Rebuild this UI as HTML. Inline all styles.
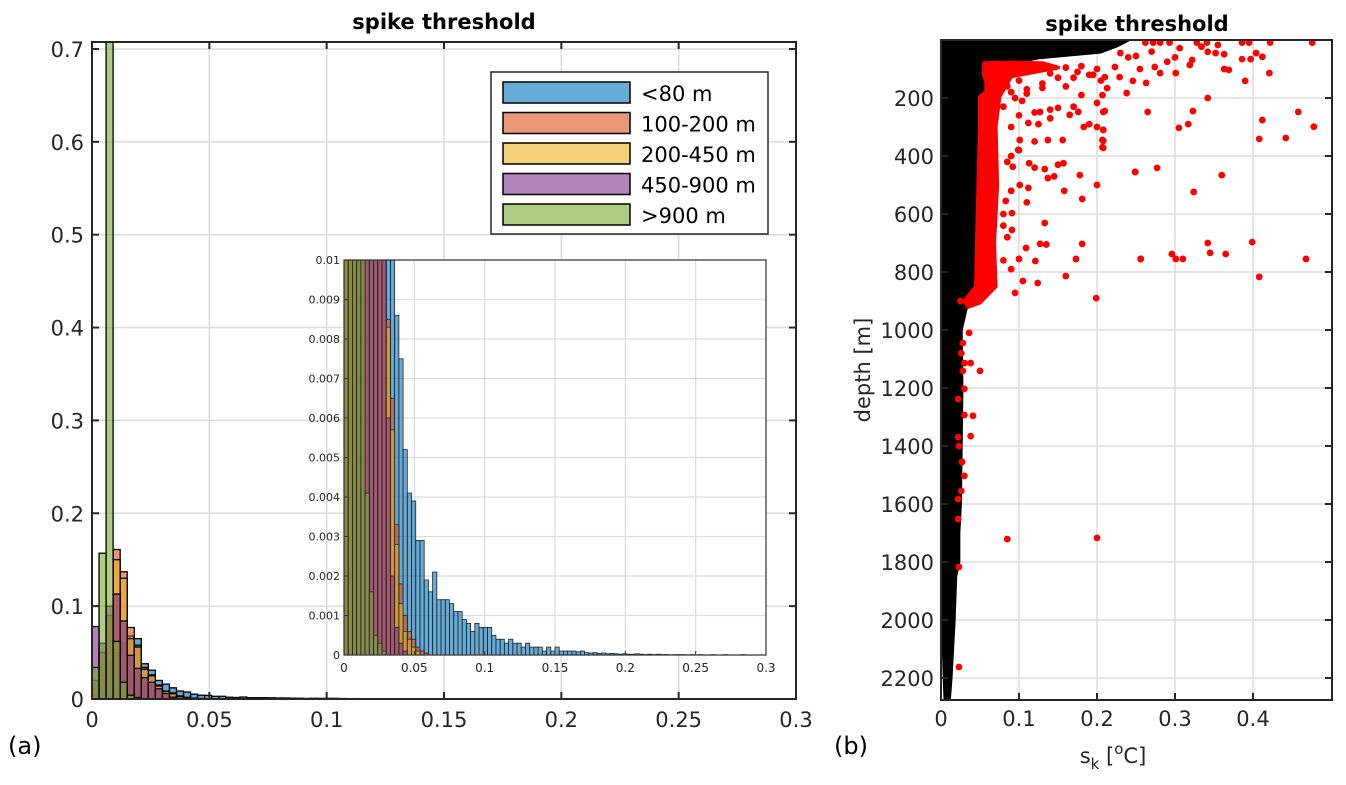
<!DOCTYPE html>
<html><head><meta charset="utf-8"><style>
html,body{margin:0;padding:0;background:#fff;}
svg{display:block;font-family:"DejaVu Sans","Liberation Sans",sans-serif;}
</style></head><body>
<svg id="fig" width="1346" height="785" viewBox="0 0 1346 785">
</svg>
<script>
// ---------- DATA ----------
const binWidth = 0.003;
const seriesNames = ["<80 m","100-200 m","200-450 m","450-900 m",">900 m"];
const blueVals = [.005,.02,.04,.05,.06,.068,.065,.038,.031,.02,
.016,.012,.0086,.0075,.0052,.0041,.0039,.0029,.0029,.0019,
.0016,.0021,.0014,.0014,.0014,.0013,.0011,.0011,.0009,.0008,
.0006,.0008,.0007,.0007,.0007,.0005,.0004,.0004,.0003,.0004,
.0003,.0003,.0002,.0003,.0002,.0002,.0002,.0001,.0002,.0001,
.0002,.0001,.0001,.0001,.0001,.00008,.0001,.00006,.00005,.00006,
.00004,.00005,.00003,.00004,.00003,.00002,.00003,.00002,.00002,.00003,
.00002,.00001,.00002,.00001,.00002,.00001,.00001,0,.00001,.00001,
.00001,0,.00001,0,.00001,0,0,.00001,0,0,
.00001,0,0,0,.00001,0,0,0,0,0];
const orangeVals = [.02,.05,.09,.161,.137,.077,.058,.034,.026,.015,.0085,.0065,.0033,.0018,.001,.0006,.0004,.0002,.0001,.00005];
const yellowVals = [.02,.05,.09,.15,.13,.065,.056,.032,.025,.014,.0083,.0057,.0028,.0013,.0006,.0004,.0002,.0001];
const purpleVals = [.078,.06,.1,.113,.084,.047,.033,.023,.018,.011,.006,.002,.0007,.0003,.0001];
const greenVals = [.034,.157,.71,.062,.018,.0041,.0016,.0005,.0003,.0001];
const mainYTicks = [0,0.1,0.2,0.3,0.4,0.5,0.6,0.7];
const mainXTicks = [0,0.05,0.1,0.15,0.2,0.25,0.3];
const insetYTicks = [0,0.001,0.002,0.003,0.004,0.005,0.006,0.007,0.008,0.009,0.01];
const insetXTicks = [0,0.05,0.1,0.15,0.2,0.25,0.3];
// right panel
const depthTicks = [200,400,600,800,1000,1200,1400,1600,1800,2000,2200];
const skTicks = [0,0.1,0.2,0.3,0.4];
const blackDepth = [0,20,40,60,80,120,196,300,600,850,900,920,1000,1200,1400,1600,1700,1800,1850,2000,2100,2200,2270];
const blackMax   = [.235,.22,.2,.12,.085,.06,.049,.047,.045,.045,.035,.028,.021,.022,.021,.02,.018,.018,.014,.012,.01,.008,.006];
const blackMin   = [0,0,0,0,0,0,0,0,0,0,0,0,0,0,0,0,0,.002,.003,.004,.005,.006,.007];
const redBandX = [.055,.09,.13,.15,.12,.09,.075,.07,.072,.068,.07,.05,.035,.03,.045,.047,.05,.05,.058,.058,.055];
const redBandD = [80,78,80,95,110,125,195,300,500,700,850,905,920,900,850,600,300,195,180,140,120];
const redX = [.262,.272,.281,.293,.328,.341,.386,.395,.422,.476,.306,.334,.355,.342,.352,.363,.404,.412,.386,.397,.363,.369,.39,.421,.342,.323,.265,.412,.458,.478,.305,.317,.408,.442,.249,.277,.36,.324,.342,.399,.256,.296,.301,.31,.345,.365,.468,.408,
.223,.229,.238,.246,.255,.263,.274,.281,.301,.319,.322,.21,.213,.207,.21,.208,.207,.207,.24,.25,.29,.3,.23,.27,
.104,.127,.14,.15,.176,.2,.208,.165,.112,.125,.137,.156,.183,.19,.2,.208,.208,.208,.101,.12,.099,.113,.092,.133,.15,.157,.137,.145,.12,.178,.249,.2,.101,.112,.158,.181,.083,.133,.091,.091,.08,.127,.135,.181,.109,.1,.121,.173,.09,.16,.105,.124,.095,.199,.256,.09,.11,.13,.16,.18,.1,.12,.14,.17,.09,.11,
.16,.18,.2,.19,.17,.14,.12,.1,.085,.095,.11,.13,.15,.175,.195,.205,.08,.09,.1,.085,.09,.08,.085,.08,
.036,.028,.026,.03,.038,.05,.028,.03,.022,.03,.041,.022,.038,.023,.027,.03,.026,.022,.022,.085,.023,.023,.2,.025];
const redD = [9,9,9,9,9,9,9,9,9,9,28,23,17,41,45,49,45,58,66,66,100,103,141,114,200,245,248,276,248,299,303,290,341,338,455,441,466,524,700,697,755,738,755,755,734,738,755,817,
93,128,183,141,100,148,93,114,114,86,69,128,166,190,245,310,345,370,60,55,75,60,45,40,
210,248,240,234,248,217,248,258,286,290,345,345,300,290,300,310,348,372,345,350,379,425,437,445,430,425,476,470,440,466,455,500,500,510,520,548,555,631,597,655,640,703,705,703,717,755,762,755,790,814,831,838,872,890,755,180,170,165,160,190,260,250,270,230,400,560,
95,90,100,120,130,115,105,140,160,200,185,150,130,110,120,140,230,300,380,420,520,600,680,760,
1010,1045,1080,1114,1114,1141,1141,1203,1238,1293,1296,1369,1366,1400,1455,1503,1555,1583,1652,1721,1817,2162,1717,900];

// ---------- HELPERS ----------
const NS="http://www.w3.org/2000/svg";
const fig=document.getElementById('fig');
function mk(tag,attrs,parent){const e=document.createElementNS(NS,tag);for(const k in attrs)e.setAttribute(k,attrs[k]);(parent||fig).appendChild(e);return e;}
function txt(s,attrs,parent){const e=mk('text',attrs,parent);e.textContent=s;return e;}
const colors=["#0072BD","#D95319","#EDB120","#7E2F8E","#77AC30"];
const allSeries=[blueVals,orangeVals,yellowVals,purpleVals,greenVals];
const grid="#dcdcdc", axc="#262626";

// ---------- MAIN HISTOGRAM ----------
const M={l:92,r:796,t:42,b:699,xmax:0.3,ymax:0.7075};
const mx=v=>M.l+v/M.xmax*(M.r-M.l);
const my=v=>M.b-v/M.ymax*(M.b-M.t);
mk('defs',{}).innerHTML='<clipPath id="cm"><rect x="92" y="42" width="704" height="657"/></clipPath><clipPath id="ci"><rect x="344" y="260" width="422" height="395"/></clipPath>';
const mainG=mk('g',{});


mainYTicks.forEach(v=>{const l=mk('line',{x1:M.l,x2:M.r,y1:my(v),y2:my(v),stroke:grid,'stroke-width':1.5},mainG);
});
mainXTicks.forEach(v=>{const l=mk('line',{x1:mx(v),x2:mx(v),y1:M.t,y2:M.b,stroke:grid,'stroke-width':1.5},mainG);
});
const barsG=mk('g',{'clip-path':'url(#cm)'},mainG);
allSeries.forEach((vals,si)=>{vals.forEach((v,i)=>{if(v<=0)return;
 const r=mk('rect',{x:mx(i*binWidth),y:my(v),width:mx(binWidth)-mx(0),height:M.b-my(v),fill:colors[si],'fill-opacity':0.6,stroke:'#000','stroke-width':1.3},barsG);
 
 });});
const mbox=mk('path',{d:`M${M.l},${M.t}H${M.r}V${M.b}H${M.l}Z`,fill:'none',stroke:axc,'stroke-width':2},mainG);

mainYTicks.forEach(v=>{mk('line',{x1:M.l,x2:M.l+7,y1:my(v),y2:my(v),stroke:axc,'stroke-width':2},mainG);mk('line',{x1:M.r,x2:M.r-7,y1:my(v),y2:my(v),stroke:axc,'stroke-width':2},mainG);
 const t=txt(String(v),{x:84,y:my(v)+8,'text-anchor':'end','font-size':21,fill:axc},mainG);
 });
mainXTicks.forEach(v=>{mk('line',{x1:mx(v),x2:mx(v),y1:M.b,y2:M.b-7,stroke:axc,'stroke-width':2},mainG);mk('line',{x1:mx(v),x2:mx(v),y1:M.t,y2:M.t+7,stroke:axc,'stroke-width':2},mainG);
 const t=txt(String(v),{x:mx(v),y:727,'text-anchor':'middle','font-size':21,fill:axc},mainG);
 });
const t1=txt('spike threshold',{x:444,y:29,'text-anchor':'middle','font-size':21,'font-weight':'bold',fill:'#000'});

const la=txt('(a)',{x:8,y:754,'font-size':24,fill:'#000'});


// legend
const lg=mk('g',{});

mk('rect',{x:491,y:72,width:277,height:162,fill:'#fff',stroke:axc,'stroke-width':1.5},lg);
seriesNames.forEach((n,i)=>{const yy=82+i*30.5;
 const sw=mk('rect',{x:503,y:yy,width:127,height:21,fill:colors[i],'fill-opacity':0.6,stroke:'#000','stroke-width':1.5},lg);
 
 const t=txt(n,{x:641,y:yy+19,'font-size':21,fill:'#000'},lg);
 });

// ---------- INSET ----------
const I={l:344,r:766,t:260,b:655,xmax:0.3,ymax:0.01};
const ix=v=>I.l+v/I.xmax*(I.r-I.l);
const iy=v=>I.b-v/I.ymax*(I.b-I.t);
const ig=mk('g',{});

mk('rect',{x:I.l,y:I.t,width:I.r-I.l,height:I.b-I.t,fill:'#fff'},ig);
insetYTicks.forEach(v=>{mk('line',{x1:I.l,x2:I.r,y1:iy(v),y2:iy(v),stroke:grid,'stroke-width':1.2},ig);});
insetXTicks.forEach(v=>{mk('line',{x1:ix(v),x2:ix(v),y1:I.t,y2:I.b,stroke:grid,'stroke-width':1.2},ig);});
const ibg=mk('g',{'clip-path':'url(#ci)'},ig);
allSeries.forEach((vals,si)=>{vals.forEach((v,i)=>{if(v<=0)return;
 const top=Math.max(iy(v),I.t-2);
 const r=mk('rect',{x:ix(i*binWidth),y:top,width:ix(binWidth)-ix(0),height:I.b-top,fill:colors[si],'fill-opacity':0.6,stroke:'#222','stroke-width':0.8},ibg);
 });});
mk('rect',{x:I.l,y:I.t,width:I.r-I.l,height:I.b-I.t,fill:'none',stroke:'#333','stroke-width':1.2},ig);
insetYTicks.forEach(v=>{mk('line',{x1:I.l,x2:I.l+4,y1:iy(v),y2:iy(v),stroke:'#333'},ig);
 const t=txt(String(v),{x:I.l-4,y:iy(v)+4,'text-anchor':'end','font-size':11,fill:axc},ig);
 });
insetXTicks.forEach(v=>{mk('line',{x1:ix(v),x2:ix(v),y1:I.b,y2:I.b-4,stroke:'#333'},ig);
 const t=txt(String(v),{x:ix(v),y:I.b+17,'text-anchor':'middle','font-size':12,fill:axc},ig);
 });

// ---------- RIGHT SCATTER ----------
const R={l:941,r:1332,t:40,b:700,xmax:(1332-941)/780,dmax:(700-40)/0.29};
const rx=v=>R.l+v/R.xmax*(R.r-R.l);
const ry=d=>R.t+d/R.dmax*(R.b-R.t);
const rg=mk('g',{});

mk('defs',{}).innerHTML='<clipPath id="cr"><rect x="941" y="40" width="391" height="660"/></clipPath>';
depthTicks.forEach(d=>{mk('line',{x1:R.l,x2:R.r,y1:ry(d),y2:ry(d),stroke:grid,'stroke-width':1.5},rg);});
skTicks.forEach(v=>{mk('line',{x1:rx(v),x2:rx(v),y1:R.t,y2:R.b,stroke:grid,'stroke-width':1.5},rg);});
const pg=mk('g',{'clip-path':'url(#cr)'},rg);
let pts=blackDepth.map((d,i)=>rx(blackMax[i])+3.3+','+ry(d));
for(let i=blackDepth.length-1;i>=0;i--)pts.push((rx(blackMin[i])-1)+','+ry(blackDepth[i]));
const bc=mk('polygon',{points:pts.join(' '),fill:'#000',stroke:'#000','stroke-width':4,'stroke-linejoin':'round'},pg);

const rb=mk('polygon',{points:redBandX.map((x,i)=>rx(x)+','+ry(redBandD[i])).join(' '),fill:'#ff0000',stroke:'#ff0000','stroke-width':4,'stroke-linejoin':'round'},pg);

redX.forEach((x,i)=>{const c=mk('circle',{cx:rx(x),cy:ry(redD[i]),r:3.4,fill:'#ff0000'},pg);
 });
mk('path',{d:`M${R.l},${R.t}H${R.r}V${R.b}H${R.l}Z`,fill:'none',stroke:axc,'stroke-width':2},rg);
depthTicks.forEach(d=>{mk('line',{x1:R.l,x2:R.l+7,y1:ry(d),y2:ry(d),stroke:axc,'stroke-width':2},rg);mk('line',{x1:R.r,x2:R.r-7,y1:ry(d),y2:ry(d),stroke:axc,'stroke-width':2},rg);
 const t=txt(String(d),{x:934,y:ry(d)+8,'text-anchor':'end','font-size':21,fill:axc},rg);
 });
skTicks.forEach(v=>{mk('line',{x1:rx(v),x2:rx(v),y1:R.b,y2:R.b-7,stroke:axc,'stroke-width':2},rg);
 const t=txt(String(v),{x:rx(v),y:726,'text-anchor':'middle','font-size':21,fill:axc},rg);
 });
const t2=txt('spike threshold',{x:1137,y:31,'text-anchor':'middle','font-size':21,'font-weight':'bold',fill:'#000'});

const yl=txt('depth [m]',{x:0,y:0,'text-anchor':'middle','font-size':21,fill:axc,transform:'translate(870,370) rotate(-90)'});

const xl=mk('text',{x:1113,y:763,'text-anchor':'middle','font-size':21,fill:axc});
xl.innerHTML='s<tspan font-size="15" dy="6">k</tspan><tspan dy="-6"> [</tspan><tspan font-size="15" dy="-9">o</tspan><tspan dy="9">C]</tspan>';

const lb=txt('(b)',{x:834,y:754,'font-size':24,fill:'#000'});

</script>
</body></html>
